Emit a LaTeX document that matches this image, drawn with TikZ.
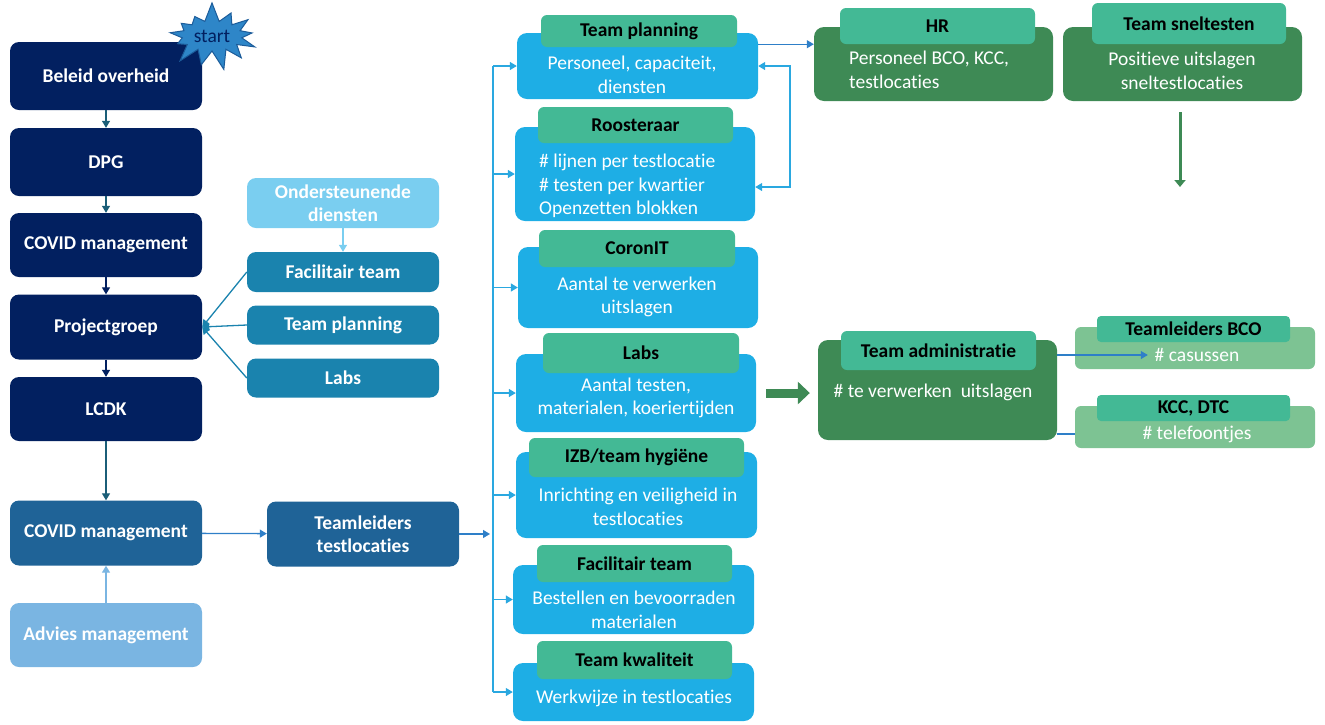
\documentclass[tikz,border=0pt]{standalone}
\usepackage{fontspec}
\setmainfont{Carlito}[Ligatures=NoCommon]
\usetikzlibrary{arrows.meta,shapes.symbols}

\definecolor{navy}{HTML}{022060}
\definecolor{midblue}{HTML}{1F6397}
\definecolor{advblue}{HTML}{7AB5E2}
\definecolor{ondblue}{HTML}{7ACEF0}
\definecolor{supblue}{HTML}{1A83AE}
\definecolor{cyanbox}{HTML}{1EAEE5}
\definecolor{tabgreen}{HTML}{43B995}
\definecolor{darkgreen}{HTML}{3E8A55}
\definecolor{lightgreen}{HTML}{7DC393}
\definecolor{linkblue}{HTML}{2E7FC8}
\definecolor{brblue}{HTML}{2AA8E0}
\definecolor{tealline}{HTML}{1B5E78}
\definecolor{starfill}{HTML}{2E86C8}
\definecolor{stardark}{HTML}{1C5C9A}

\begin{document}
\begin{tikzpicture}[
    x=1pt, y=-1pt,
    font=\fontsize{19.5}{23.5}\selectfont,
    block/.style={rounded corners=9pt, align=center, text=white, font=\fontsize{19.5}{23.5}\selectfont\bfseries, minimum width=192pt, inner sep=2pt},
    card/.style={rounded corners=10pt, minimum width=240pt, inner sep=0pt},
    tab/.style={fill=tabgreen, rounded corners=6pt, minimum width=195pt, inner sep=0pt, font=\fontsize{19.5}{23.5}\selectfont\bfseries},
    body/.style={text=white, align=center, inner sep=0pt},
    arrow/.style={-{Triangle[length=7pt,width=8pt]}, line width=1.3pt},
    barrow/.style={arrow, draw=brblue}
]
\useasboundingbox (0,0) rectangle (1325,724);

% ---------- Left column ----------
\node[block, fill=navy, minimum height=68pt] (beleid) at (106,76) {Beleid overheid};
\node[block, fill=navy, minimum height=68pt] (dpg) at (106,162) {DPG};
\node[block, fill=navy, minimum height=64pt] (covid) at (106,245) {COVID management};
\node[block, fill=navy, minimum height=65pt] (proj) at (106,327) {Projectgroep};
\node[block, fill=navy, minimum height=64pt] (lcdk) at (106,409) {LCDK};
\node[block, fill=midblue, minimum height=65pt] (covidb) at (106,533) {COVID management};
\node[block, fill=advblue, minimum height=64pt] (advies) at (106,635) {Advies management};
\node[block, fill=midblue, minimum height=65pt] (tleid) at (363,534) {Teamleiders\\testlocaties};

\node[starburst, starburst points=13, starburst point height=20pt, random starburst=7,
      fill=starfill, draw=stardark, line width=1pt, minimum width=100pt, minimum height=70pt,
      text=navy, inner sep=0pt] (start) at (212,36) {start};

% ---------- Support column ----------
\node[block, fill=ondblue, minimum height=50pt] (onder) at (343,203) {Ondersteunende\\diensten};
\node[block, fill=supblue, minimum height=40pt] (facil) at (343,272) {Facilitair team};
\node[block, fill=supblue, minimum height=39pt] (tplan) at (343,325) {Team planning};
\node[block, fill=supblue, minimum height=39pt] (labsl) at (343,378) {Labs};

% ---------- Team column ----------
\node[card, fill=cyanbox, minimum width=241pt, minimum height=66pt] (tp) at (637.5,66) {};
\node[tab, minimum width=196pt, minimum height=32pt] (tptab) at (639,31) {Team planning};
\node[body] (tptxt) at (632,75) {Personeel, capaciteit,\\diensten};

\node[card, fill=cyanbox, minimum height=94pt] (ro) at (635,174) {};
\node[tab, minimum height=36pt] (rotab) at (635.5,125) {Roosteraar};
\node[body, align=left, anchor=west] (rotxt) at (539,186) {\# lijnen per testlocatie\\\# testen per kwartier\\Openzetten blokken};

\node[card, fill=cyanbox, minimum height=81pt] (co) at (638,287.5) {};
\node[tab, minimum width=196pt, minimum height=37pt] (cotab) at (637,248.5) {CoronIT};
\node[body] (cotxt) at (637,297) {Aantal te verwerken\\uitslagen};

\node[card, fill=cyanbox, minimum height=78pt] (lb) at (636,393) {};
\node[tab, minimum width=196pt, minimum height=40pt] (lbtab) at (641,353) {Labs};
\node[body] (lbtxt) at (636,398) {Aantal testen,\\materialen, koeriertijden};

\node[card, fill=cyanbox, minimum width=241pt, minimum height=86pt] (iz) at (636.5,495) {};
\node[tab, minimum width=215pt, minimum height=39pt] (iztab) at (636.5,457.5) {IZB/team hygiëne};
\node[body] (iztxt) at (638,507) {Inrichting en veiligheid in\\testlocaties};

\node[card, fill=cyanbox, minimum width=241pt, minimum height=69pt] (ft) at (633.5,599.5) {};
\node[tab, minimum height=37pt] (fttab) at (634.5,563.5) {Facilitair team};
\node[body] (fttxt) at (634,610) {Bestellen en bevoorraden\\materialen};

\node[card, fill=cyanbox, minimum width=241pt, minimum height=58pt] (kw) at (633.5,692) {};
\node[tab, minimum height=38pt] (kwtab) at (634.5,660) {Team kwaliteit};
\node[body] (kwtxt) at (634,698) {Werkwijze in testlocaties};

% ---------- Right side ----------
\node[card, fill=darkgreen, minimum width=239pt, minimum height=74pt] (hr) at (933.5,64) {};
\node[tab, minimum height=36pt] (hrtab) at (937.5,26) {HR};
\node[body, align=left, anchor=west] (hrtxt) at (849,70) {Personeel BCO, KCC,\\testlocaties};

\node[card, fill=darkgreen, minimum width=239pt, minimum height=74pt] (st) at (1182.5,64) {};
\node[tab, minimum width=194pt, minimum height=41pt] (sttab) at (1189,23.5) {Team sneltesten};
\node[body] (sttxt) at (1182,71) {Positieve uitslagen\\sneltestlocaties};

\node[card, fill=darkgreen, minimum width=239pt, minimum height=100pt] (ta) at (937.5,390) {};
\node[tab, minimum height=39pt] (tatab) at (938.5,350.5) {Team administratie};
\node[body] (tatxt) at (933,392) {\# te verwerken\ \ uitslagen};

\node[card, fill=lightgreen, rounded corners=6pt, minimum height=42pt] (bco) at (1195,348) {};
\node[tab, rounded corners=4pt, minimum width=193pt, minimum height=26pt] (bcotab) at (1193.5,329) {Teamleiders BCO};
\node[body] (bcotxt) at (1197,355) {\# casussen};

\node[card, fill=lightgreen, rounded corners=6pt, minimum height=42pt] (kcc) at (1195,427) {};
\node[tab, rounded corners=4pt, minimum width=193pt, minimum height=26pt] (kcctab) at (1193.5,408) {KCC, DTC};
\node[body] (kcctxt) at (1197,434) {\# telefoontjes};

% ---------- Edges ----------
\draw[arrow, draw=tealline] (beleid) -- (dpg);
\draw[arrow, draw=tealline] (dpg) -- (covid);
\draw[arrow, draw=navy] (covid) -- (proj);
\draw[arrow, draw=navy] (proj) -- (lcdk);
\draw[arrow, draw=tealline] (lcdk) -- (covidb);
\draw[arrow, draw=advblue] (advies) -- (covidb);
\draw[arrow, draw=linkblue] (covidb) -- (tleid);

\draw[arrow, draw=ondblue] (onder) -- (facil);
\draw[arrow, draw=supblue] (facil.west) -- (proj.east);
\draw[arrow, draw=supblue] (tplan.west) -- (proj.east);
\draw[arrow, draw=supblue] (labsl.west) -- (proj.east);

% bracket to the teams
\coordinate (bt) at (493,0);
\draw[brblue, line width=1.3pt] (bt |- tp.west) -- (bt |- kw.west);
\foreach \b in {tp,ro,co,lb,iz,ft,kw}
  \draw[barrow] (bt |- \b.west) -- (\b.west);
\draw[arrow, draw=linkblue] (tleid.east) -- ([xshift=-3pt]bt |- tleid.east);

% planning <-> roosteraar, planning -> HR
\coordinate (lp) at (790,0);
\coordinate (rolow) at ([yshift=-13pt]ro.east);
\draw[brblue, line width=1.3pt, {Triangle[length=7pt,width=8pt]}-{Triangle[length=7pt,width=8pt]}]
  (tp.east) -- (lp |- tp.east) -- (lp |- rolow) -- (rolow);
\draw[arrow, draw=linkblue] (tp.east |- hrtab.south) -- (hr.west |- hrtab.south);

% green flow
\coordinate (stend) at (1180,187);
\draw[darkgreen, line width=3pt, -{Triangle[length=7pt,width=11pt]}] (stend |- st.south) ++(0,11) -- (stend);
\draw[darkgreen, line width=9pt, -{Triangle[length=12pt,width=22pt]}] ([xshift=10pt]lb.east) -- ([xshift=-8pt]ta.west |- lb.east);

% administratie to BCO / KCC
\draw[arrow, draw=linkblue, line width=1.2pt] (ta.east |- bcotxt) -- ([xshift=73pt]bco.west |- bcotxt);
\draw[linkblue, line width=1.2pt] (ta.east |- kcctxt) -- (kcc.west |- kcctxt);

\end{tikzpicture}
\end{document}
